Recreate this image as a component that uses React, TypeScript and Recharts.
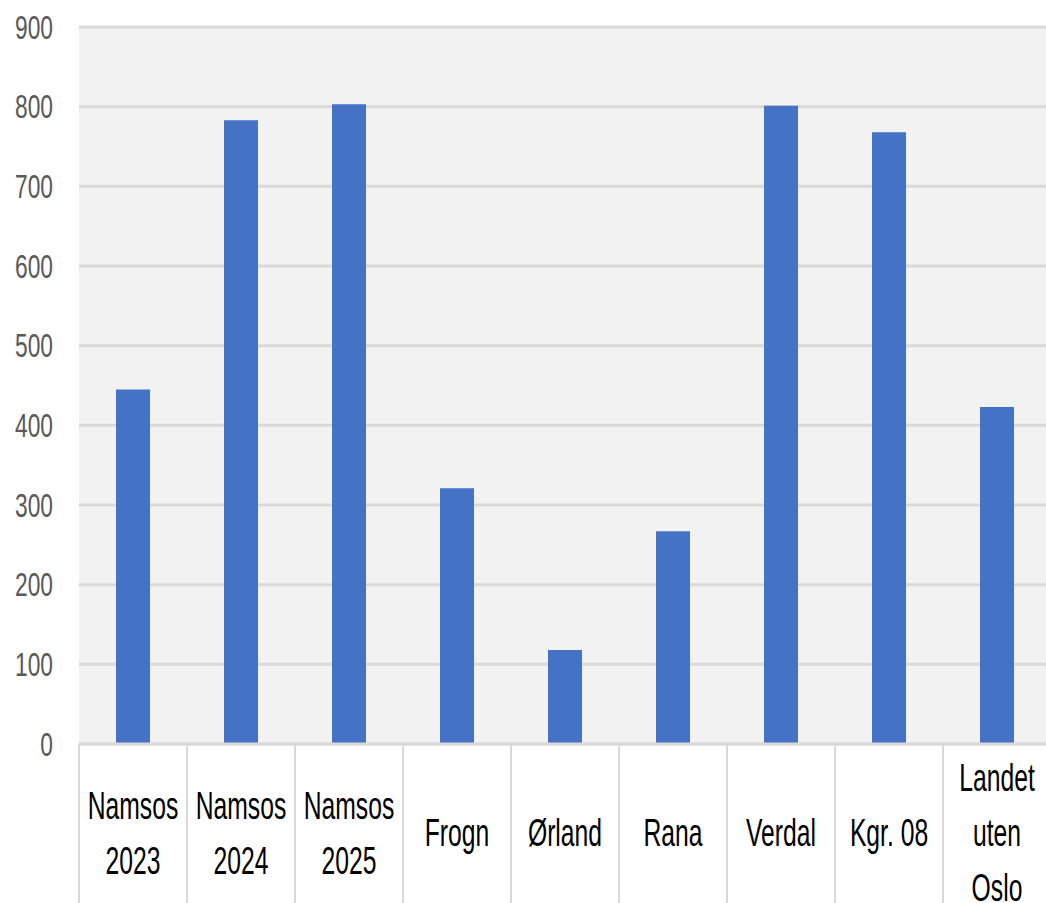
import React from "react";
import { BarChart, Bar, XAxis, YAxis, CartesianGrid } from "recharts";

const categories = [
  "Namsos\n2023",
  "Namsos\n2024",
  "Namsos\n2025",
  "Frogn",
  "Ørland",
  "Rana",
  "Verdal",
  "Kgr. 08",
  "Landet\nuten\nOslo",
];
const values = [445, 783, 803, 321, 118, 267, 801, 768, 423];
const yTicks = [0, 100, 200, 300, 400, 500, 600, 700, 800, 900];

const data = categories.map((name, i) => ({ name, value: values[i] }));

const FONT = "'Liberation Sans', Arial, sans-serif";

const XTick = (props: any) => {
  const { x, y, payload, width } = props;
  const band =
    payload && payload.offset ? payload.offset * 2 : (width || 972) / categories.length;
  const lines = String(payload.value).split("\n");
  const n = lines.length;
  const idx = categories.indexOf(String(payload.value));
  const isLast = idx === categories.length - 1;
  return (
    <g>
      <line x1={x - band / 2} x2={x - band / 2} y1={y} y2={y + 200} stroke="#d9d9d9" strokeWidth={2} />
      {isLast && (
        <line x1={x + band / 2} x2={x + band / 2} y1={y} y2={y + 200} stroke="#d9d9d9" strokeWidth={2} />
      )}
      <g transform={`translate(${x},${y + 89})`}>
        <text
          transform="scale(0.65,1)"
          textAnchor="middle"
          fontFamily={FONT}
          fontSize={38}
          fill="#000"
        >
          {lines.map((l, i) => (
            <tspan key={i} x={0} y={(i - (n - 1) / 2) * 55} dominantBaseline="central">
              {l}
            </tspan>
          ))}
        </text>
      </g>
    </g>
  );
};

const YTick = (props: any) => {
  const { x, y, payload } = props;
  return (
    <g transform={`translate(${x},${y})`}>
      <text
        transform="scale(0.69,1)"
        textAnchor="end"
        dominantBaseline="central"
        fontFamily={FONT}
        fontSize={33}
        fill="#595959"
      >
        {payload.value}
      </text>
    </g>
  );
};

export default function App() {
  return (
    <div
      style={{
        position: "absolute",
        left: 0,
        top: 0,
        width: 1046,
        height: 903,
        overflow: "hidden",
        background: "#fff",
      }}
    >
      <BarChart
        width={1060}
        height={903}
        data={data}
        margin={{ top: 27, right: 9, left: 0, bottom: 0 }}
      >
        <CartesianGrid vertical={false} stroke="#d9d9d9" strokeWidth={3} fill="#f2f2f2" />
        <XAxis
          dataKey="name"
          height={159}
          interval={0}
          tickLine={false}
          tickSize={0}
          tickMargin={0}
          axisLine={{ stroke: "#d9d9d9", strokeWidth: 3 }}
          tick={<XTick />}
        />
        <YAxis
          width={79}
          domain={[0, 900]}
          ticks={yTicks}
          interval={0}
          axisLine={false}
          tickLine={false}
          tickSize={0}
          tickMargin={26}
          tick={<YTick />}
        />
        <Bar dataKey="value" fill="#4472C4" barSize={34} isAnimationActive={false} />
      </BarChart>
    </div>
  );
}
